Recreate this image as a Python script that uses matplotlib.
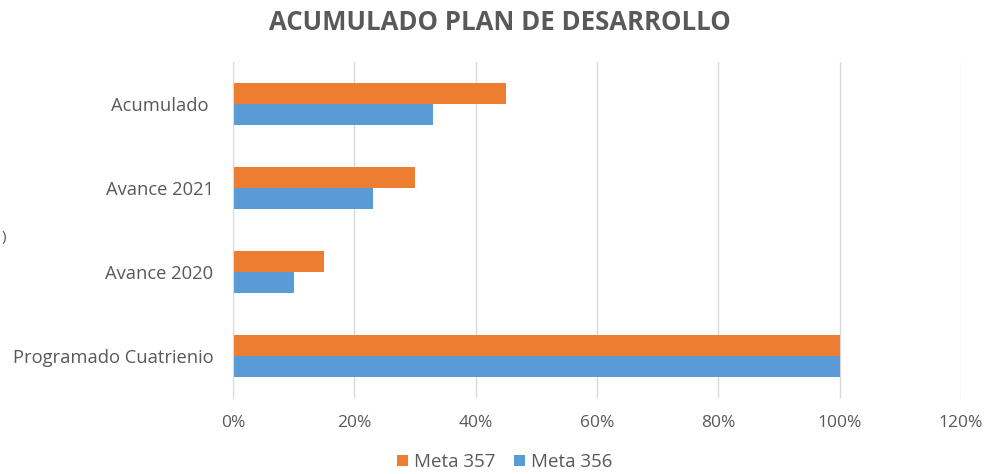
import numpy as np
import matplotlib.pyplot as plt
from matplotlib.ticker import PercentFormatter

categories = ["Programado Cuatrienio", "Avance 2020", "Avance 2021", "Acumulado "]
meta_357 = [1.00, 0.15, 0.30, 0.45]
meta_356 = [1.00, 0.10, 0.23, 0.33]
x_ticks = [0, 0.2, 0.4, 0.6, 0.8, 1.0, 1.2]

ORANGE = "#ED7D31"
BLUE = "#5B9BD5"
TEXT = "#595959"

plt.rcParams["font.family"] = ["Open Sans", "DejaVu Sans"]

fig = plt.figure(figsize=(9.89, 4.74), dpi=100)
ax = fig.add_axes([0.2356, 0.1603, 0.7361, 0.7089])

y = np.arange(len(categories))
h = 0.25
ax.barh(y + h / 2, meta_357, height=h, color=ORANGE, label="Meta 357", zorder=3)
ax.barh(y - h / 2, meta_356, height=h, color=BLUE, label="Meta 356", zorder=3)

ax.set_ylim(-0.5, len(categories) - 0.5)
ax.set_xlim(0, 1.2)
ax.set_xticks(x_ticks)
ax.xaxis.set_major_formatter(PercentFormatter(1.0, decimals=0))
ax.set_yticks(y)
ax.set_yticklabels(categories)
ax.tick_params(axis="both", length=0, colors=TEXT)
ax.tick_params(axis="x", pad=12, labelsize=12.5)
ax.tick_params(axis="y", pad=14, labelsize=13.2)

ax.grid(axis="x", color="#D9D9D9", linewidth=1, zorder=0)
for side in ["top", "right", "bottom"]:
    ax.spines[side].set_visible(False)
ax.spines["left"].set_color("#D9D9D9")
ax.spines["left"].set_zorder(4)

fig.text(0.505, 0.952, "ACUMULADO PLAN DE DESARROLLO", ha="center", va="center",
         fontsize=18.5, fontweight="bold", color=TEXT)
fig.text(0.002, 0.50, ")", ha="left", va="center", fontsize=11, color=TEXT)

fig.legend(loc="center", bbox_to_anchor=(0.51, 0.025), ncol=2, frameon=False,
           fontsize=13.5, handlelength=0.6, handleheight=0.6, handletextpad=0.3,
           columnspacing=1.0, labelcolor=TEXT)

fig.savefig("out.png", dpi=100)
